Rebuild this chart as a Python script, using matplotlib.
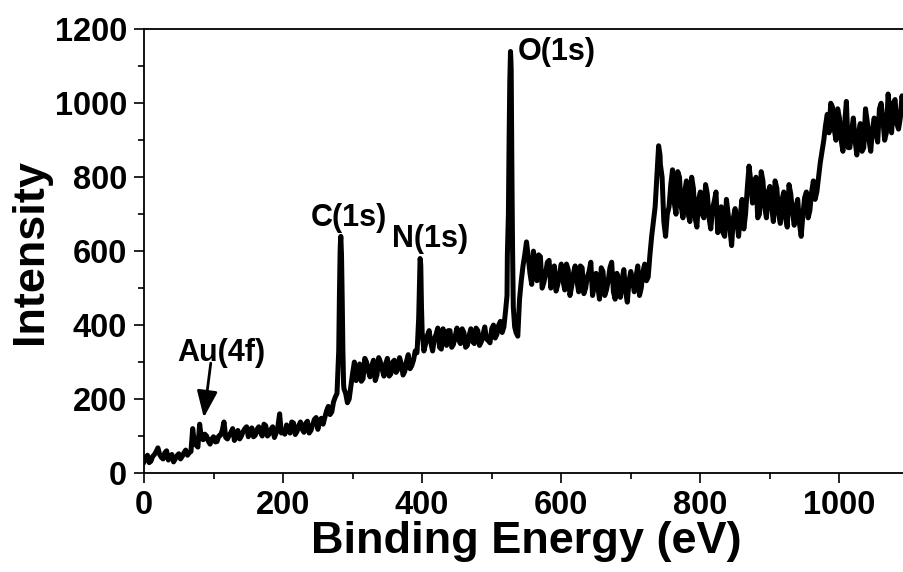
import numpy as np
import matplotlib
matplotlib.use("Agg")
import matplotlib.pyplot as plt
from matplotlib.ticker import MultipleLocator

plt.rcParams['font.family'] = ['Liberation Sans', 'DejaVu Sans']
plt.rcParams['font.weight'] = 'bold'

# survey spectrum, 5 eV steps from 0 to 1095 eV
grid_energy = np.arange(0, 1100, 5)
grid_counts = [
    30, 48, 32, 50, 68, 42, 55, 35, 50, 38,
    52, 45, 62, 55, 120, 75, 132, 90, 100, 78,
    98, 85, 102, 138, 92, 110, 88, 115, 100, 120,
    98, 122, 102, 125, 100, 128, 105, 125, 108, 160,
    115, 130, 108, 135, 112, 138, 110, 140, 115, 145,
    118, 148, 150, 180, 165, 205, 330, 470, 215, 200,
    270, 250, 295, 255, 300, 260, 305, 265, 300, 262,
    310, 268, 305, 280, 295, 275, 320, 290, 330, 420,
    380, 350, 385, 330, 375, 340, 390, 345, 385, 348,
    392, 350, 380, 345, 390, 350, 385, 355, 395, 358,
    390, 365, 400, 380, 440, 900, 600, 380, 470, 560,
    625, 540, 600, 520, 585, 515, 570, 500, 560, 510,
    565, 495, 550, 505, 560, 490, 555, 500, 545, 480,
    540, 470, 545, 495, 555, 490, 540, 475, 550, 462,
    545, 490, 560, 500, 565, 530, 640, 720, 885, 800,
    640, 720, 820, 700, 800, 690, 790, 680, 770, 665,
    760, 690, 755, 660, 735, 650, 720, 640, 700, 615,
    715, 640, 740, 700, 830, 730, 800, 700, 790, 690,
    775, 680, 770, 675, 760, 665, 755, 670, 740, 640,
    745, 690, 760, 740, 800, 870, 940, 920, 990, 900,
    960, 870, 1005, 880, 960, 860, 945, 880, 950, 870,
    960, 895, 1000, 900, 1025, 920, 1010, 930, 1020, 950,
]

# the in-between readings, 2.5 eV offset (the noise)
half_energy = np.arange(2.5, 1100, 5)
half_counts = [
    40, 28, 45, 58, 50, 38, 60, 44, 30, 47,
    38, 55, 48, 58, 80, 70, 95, 105, 86, 92,
    84, 100, 115, 96, 102, 120, 98, 92, 112, 125,
    115, 98, 118, 110, 132, 100, 118, 96, 125, 108,
    105, 122, 138, 104, 128, 118, 134, 108, 130, 150,
    140, 132, 168, 158, 192, 215, 625, 228, 190, 235,
    300, 262, 248, 310, 275, 290, 250, 312, 280, 295,
    262, 300, 272, 312, 265, 302, 282, 305, 325, 575,
    330, 372, 352, 362, 392, 335, 365, 385, 340, 370,
    360, 390, 340, 372, 355, 392, 345, 375, 362, 352,
    400, 375, 410, 395, 590, 1120, 410, 370, 520, 590,
    585, 510, 560, 590, 500, 540, 575, 525, 492, 540,
    520, 565, 480, 540, 520, 560, 485, 530, 570, 505,
    505, 555, 480, 520, 570, 470, 515, 525, 490, 520,
    520, 530, 480, 545, 520, 590, 680, 800, 835, 680,
    700, 780, 730, 815, 720, 760, 700, 800, 690, 740,
    700, 780, 690, 715, 760, 680, 650, 740, 660, 690,
    680, 700, 660, 770, 790, 760, 690, 815, 720, 760,
    720, 790, 700, 740, 690, 780, 705, 720, 675, 700,
    760, 710, 790, 760, 840, 900, 970, 1000, 930, 985,
    900, 945, 880, 925, 900, 920, 870, 985, 900, 930,
    920, 985, 955, 920, 975, 1000, 945, 960, 985, 1000,
]

# extra points on the narrow core-level peaks
peak_energy = [281, 282, 283, 284, 286, 287,
               393, 396, 397, 398, 399,
               522, 524, 526, 527, 528, 529, 531, 533,
               742, 747]
peak_counts = [480, 600, 640, 590, 330, 240,
               340, 500, 580, 560, 450,
               480, 700, 1060, 1140, 1090, 820, 450, 395,
               860, 700]

peak_labels = ['C(1s)', 'N(1s)', 'O(1s)']
label_x = [294, 412, 537]
label_y = [668, 612, 1117]

energy = np.concatenate([grid_energy, half_energy, peak_energy])
counts = np.concatenate([grid_counts, half_counts, peak_counts])
order = np.argsort(energy, kind='stable')
energy, counts = energy[order], counts[order]

fig = plt.figure(figsize=(9.04, 5.72), dpi=100)
ax = fig.add_axes([0.1593, 0.1731, 0.8462, 0.7757])

ax.plot(energy, counts, color='black', lw=3.6, solid_joinstyle='round')

ax.set_xlim(0, 1100)
ax.set_ylim(0, 1200)
ax.xaxis.set_major_locator(MultipleLocator(200))
ax.xaxis.set_minor_locator(MultipleLocator(100))
ax.yaxis.set_major_locator(MultipleLocator(200))
ax.yaxis.set_minor_locator(MultipleLocator(100))
ax.tick_params(which='major', length=7, width=1.2, labelsize=23.5, pad=5)
ax.tick_params(which='minor', length=4, width=1.2)
for s in ax.spines.values():
    s.set_linewidth(1.3)

ax.set_xlabel('Binding Energy (eV)', fontsize=32.5, fontweight='bold', labelpad=0)
ax.set_ylabel('Intensity', fontsize=32.5, fontweight='bold', labelpad=3)

for lab, lx, ly in zip(peak_labels, label_x, label_y):
    ha = 'left' if lab == 'O(1s)' else 'center'
    ax.text(lx, ly, lab, fontsize=22, fontweight='bold', ha=ha, va='baseline')

ax.text(111, 303, 'Au(4f)', fontsize=22, fontweight='bold', ha='center', va='baseline')
ax.annotate('', xy=(86, 150), xytext=(96, 297),
            arrowprops=dict(arrowstyle='-|>,head_length=0.9,head_width=0.35',
                            color='black', lw=2, mutation_scale=18,
                            shrinkA=0, shrinkB=0))

fig.savefig('out.png', dpi=100)
